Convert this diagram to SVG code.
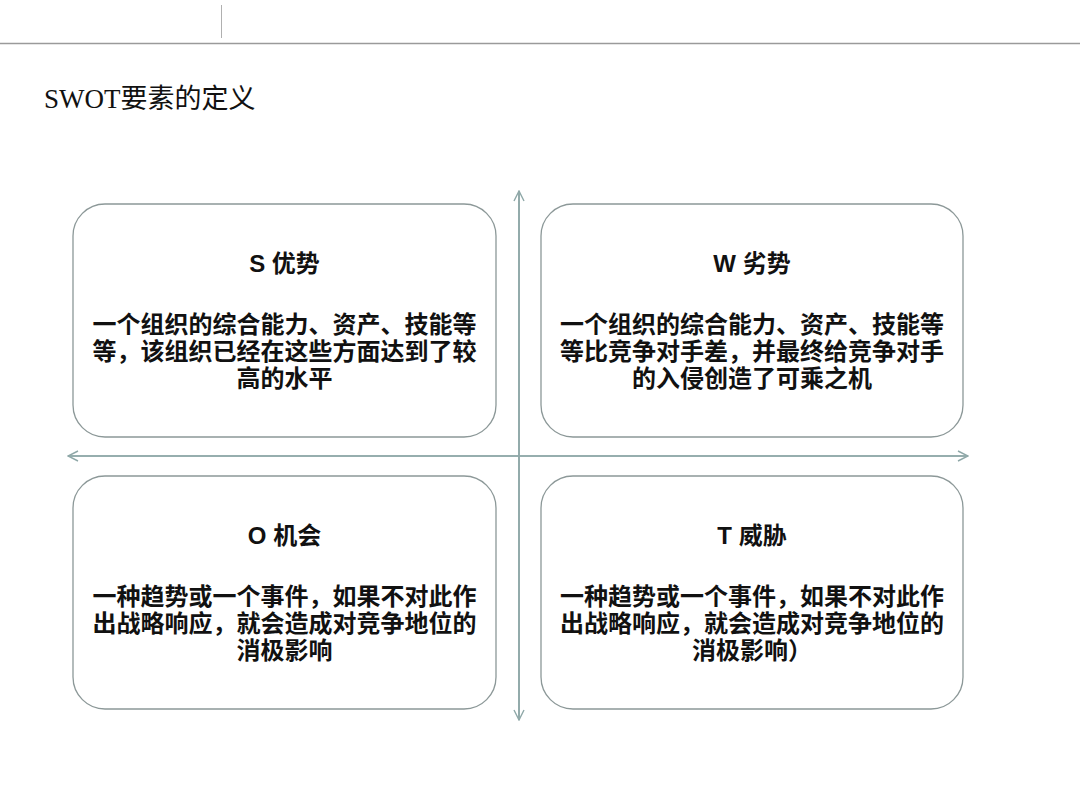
<svg xmlns="http://www.w3.org/2000/svg" width="1080" height="810" viewBox="0 0 1080 810">
<style>
.box{fill:#fff;stroke:#8c9898;stroke-width:1.3}
.hd{font-family:"Liberation Sans","Noto Sans CJK SC",sans-serif;font-weight:bold;font-size:24px;fill:#111;text-anchor:middle}
.bd{font-family:"Liberation Sans","Noto Sans CJK SC",sans-serif;font-weight:bold;font-size:24px;fill:#111;text-anchor:middle}
.ax{stroke:#8fa8a8;stroke-width:1.6;fill:none}
</style>
<defs>
<marker id="arr" viewBox="0 0 12 12" refX="11" refY="6" markerWidth="12" markerHeight="12" markerUnits="userSpaceOnUse" orient="auto">
<path d="M1,1 L11,6 L1,11" fill="none" stroke="#8fa8a8" stroke-width="1.4"/>
</marker>
</defs>
<rect width="1080" height="810" fill="#fff"/>
<line x1="0" y1="43.5" x2="1080" y2="43.5" stroke="#9a9a9a" stroke-width="1.3"/>
<line x1="221.5" y1="5" x2="221.5" y2="38" stroke="#b0b0b0" stroke-width="1"/>
<text x="44" y="108" font-family="Liberation Serif,'Noto Sans CJK SC',serif" font-size="27" fill="#111">SWOT要素的定义</text>
<g id="connectors">
<line class="ax" x1="519" y1="720" x2="519" y2="191" marker-end="url(#arr)"/>
<line class="ax" x1="519" y1="191" x2="519" y2="720" marker-end="url(#arr)"/>
<line class="ax" x1="68" y1="456" x2="968" y2="456" marker-end="url(#arr)"/>
<line class="ax" x1="968" y1="456" x2="68" y2="456" marker-end="url(#arr)"/>
</g>
<g id="S">
<rect class="box" x="73" y="204" width="423" height="233" rx="32"/>
<text class="hd" x="284.5" y="272">S 优势</text>
<text class="bd" x="284.5" y="333">一个组织的综合能力、资产、技能等</text>
<text class="bd" x="284.5" y="360">等，该组织已经在这些方面达到了较</text>
<text class="bd" x="284.5" y="387">高的水平</text>
</g>
<g id="W">
<rect class="box" x="541" y="204" width="422" height="233" rx="32"/>
<text class="hd" x="752" y="272">W 劣势</text>
<text class="bd" x="752" y="333">一个组织的综合能力、资产、技能等</text>
<text class="bd" x="752" y="360">等比竞争对手差，并最终给竞争对手</text>
<text class="bd" x="752" y="387">的入侵创造了可乘之机</text>
</g>
<g id="O">
<rect class="box" x="73" y="476" width="423" height="233" rx="32"/>
<text class="hd" x="284.5" y="544">O 机会</text>
<text class="bd" x="284.5" y="605">一种趋势或一个事件，如果不对此作</text>
<text class="bd" x="284.5" y="632">出战略响应，就会造成对竞争地位的</text>
<text class="bd" x="284.5" y="659">消极影响</text>
</g>
<g id="T">
<rect class="box" x="541" y="476" width="422" height="233" rx="32"/>
<text class="hd" x="752" y="544">T 威胁</text>
<text class="bd" x="752" y="605">一种趋势或一个事件，如果不对此作</text>
<text class="bd" x="752" y="632">出战略响应，就会造成对竞争地位的</text>
<text class="bd" x="752" y="659">消极影响）</text>
</g>
</svg>
